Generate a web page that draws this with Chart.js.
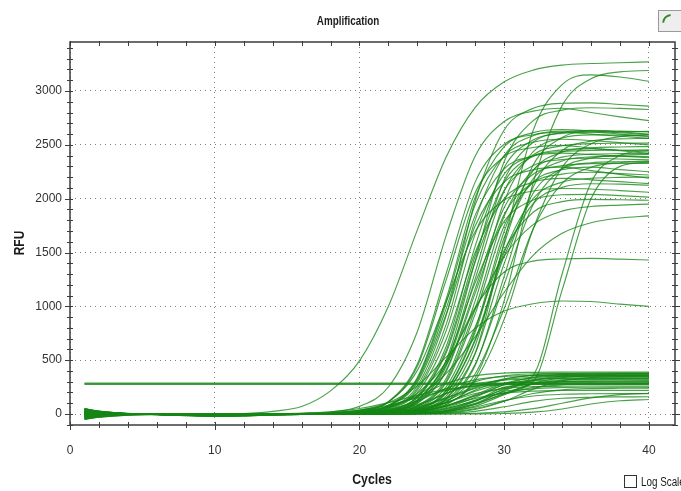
<!DOCTYPE html>
<html>
<head>
<meta charset="utf-8">
<title>Amplification</title>
<script src="https://cdn.jsdelivr.net/npm/chart.js@4.4.0/dist/chart.umd.min.js"></script>
<style>
  html, body { margin: 0; padding: 0; background: #fff; }
  #wrap { position: relative; width: 681px; height: 491px; overflow: hidden; }
</style>
</head>
<body>
<div id="wrap"><canvas id="amp" width="681" height="491"></canvas></div>
<script>
const cycles = [1, 2, 4, 6, 8, 10, 12, 14, 16, 18, 20, 22, 24, 26, 28, 30, 32, 34, 36, 38, 40]

const xTicks = [0, 10, 20, 30, 40]
const yTicks = [0, 500, 1000, 1500, 2000, 2500, 3000]

// positive wells, RFU per cycle
const highCurves = [
  [12, 6, 1, -2, -3, -2, 4, 25, 70, 215, 494, 1000, 1710, 2390, 2848, 3085, 3194, 3240, 3255, 3262, 3270],
  [30, 14, 2, -3, -6, -8, -6, -2, 5, 19, 71, 251, 767, 1662, 2397, 2716, 2813, 2840, 2800, 2760, 2725],
  [15, 8, 1, -2, -4, -5, -4, -2, 1, 6, 26, 115, 464, 1310, 2156, 2505, 2594, 2615, 2600, 2580, 2560],
  [2, 1, 0, -1, -2, -3, -2, -1, 1, 5, 25, 110, 443, 1250, 2058, 2390, 2475, 2495, 2470, 2445, 2420],
  [-15, -6, 0, 0, -2, -3, -2, -1, 1, 4, 18, 81, 338, 1073, 2014, 2483, 2613, 2642, 2630, 2612, 2594],
  [-35, -18, -4, 0, -4, -6, -5, -2, 1, 3, 15, 70, 293, 932, 1748, 2155, 2268, 2293, 2260, 2225, 2190],
  [38, 18, 2, -2, -5, -6, -5, -2, 0, 3, 13, 61, 262, 919, 1981, 2638, 2839, 2886, 2890, 2875, 2860],
  [8, 4, 0, -1, -3, -4, -3, -1, 0, 2, 11, 51, 222, 777, 1673, 2228, 2399, 2438, 2447, 2450, 2453],
  [20, 10, 2, -4, -10, -14, -12, -6, -2, 2, 10, 46, 199, 697, 1503, 2001, 2154, 2189, 2175, 2158, 2140],
  [-25, -10, -2, 0, -3, -4, -3, -1, 0, 2, 8, 38, 166, 630, 1562, 2290, 2545, 2607, 2617, 2622, 2625],
  [12, 6, 1, -2, -4, -5, -4, -2, 0, 2, 7, 34, 151, 571, 1416, 2077, 2307, 2363, 2375, 2368, 2360],
  [26, 12, 2, -3, -6, -8, -6, -3, -1, 1, 6, 29, 130, 492, 1220, 1789, 1987, 2036, 2040, 2028, 2015],
  [-4, -2, 0, -1, -2, -3, -2, -1, 0, 1, 6, 28, 125, 504, 1425, 2346, 2725, 2822, 2844, 2838, 2828],
  [-10, -4, 0, 0, -2, -3, -2, -1, 0, 1, 5, 25, 111, 445, 1258, 2071, 2405, 2491, 2511, 2515, 2516],
  [5, 3, 0, -1, -3, -4, -3, -1, 0, 1, 5, 23, 103, 412, 1165, 1918, 2227, 2307, 2325, 2328, 2328],
  [42, 20, 3, -4, -8, -10, -8, -4, -1, 1, 5, 22, 99, 398, 1125, 1852, 2151, 2228, 2245, 2232, 2220],
  [-30, -15, -3, 0, -4, -6, -5, -2, 0, 1, 4, 17, 79, 332, 1053, 1976, 2436, 2564, 2592, 2590, 2580],
  [18, 9, 1, -2, -4, -5, -4, -2, 0, 1, 3, 16, 74, 309, 980, 1839, 2268, 2386, 2413, 2418, 2420],
  [-48, -30, -10, -4, -12, -18, -16, -8, -3, -1, 3, 13, 61, 255, 810, 1520, 1874, 1972, 1994, 1990, 1985],
  [0, 0, 0, -1, -2, -3, -2, -1, 0, 0, 2, 11, 52, 225, 787, 1697, 2259, 2432, 2472, 2480, 2484],
  [34, 16, 2, -2, -5, -6, -5, -2, 0, 0, 2, 11, 50, 217, 761, 1639, 2183, 2350, 2388, 2395, 2390],
  [50, 28, 6, -6, -15, -20, -17, -8, -3, -1, 2, 10, 45, 195, 682, 1468, 1955, 2105, 2139, 2135, 2125],
  [-18, -8, 0, 0, -2, -3, -2, -1, 0, 0, 1, 5, 21, 88, 336, 1053, 2147, 2864, 3114, 3178, 3190],
  [6, 3, 0, -1, -3, -4, -3, -1, 0, 0, 2, 7, 31, 141, 566, 1600, 2634, 3059, 3150, 3130, 3090],
  [28, 13, 2, -3, -6, -8, -6, -3, -1, 0, 2, 8, 38, 168, 636, 1577, 2312, 2569, 2631, 2620, 2600],
  [-22, -9, -2, 0, -3, -4, -3, -1, 0, 0, 2, 8, 33, 131, 465, 1205, 1945, 2280, 2376, 2403, 2410],
  [10, 5, 1, -2, -4, -5, -4, -2, 0, 0, 1, 5, 25, 113, 453, 1280, 2107, 2447, 2534, 2555, 2560],
  [22, 11, 2, -4, -10, -14, -12, -6, -2, 0, 2, 8, 31, 111, 374, 980, 1718, 2143, 2291, 2334, 2345],
  [3, 1, 0, -1, -2, -3, -2, -1, 1, 3, 16, 74, 310, 984, 1847, 2277, 2396, 2423, 2410, 2395, 2380],
  [-40, -20, -4, 0, -4, -6, -5, -2, 0, 3, 12, 55, 239, 837, 1803, 2401, 2585, 2627, 2620, 2600, 2580],
  [40, 19, 2, -2, -5, -6, -5, -2, 0, 1, 6, 26, 116, 467, 1320, 2173, 2524, 2614, 2635, 2628, 2620],
  [-12, -5, 0, 0, -2, -3, -2, -1, 0, 0, 2, 10, 46, 199, 697, 1503, 2001, 2154, 2189, 2198, 2200],
  [48, 24, 4, -4, -8, -10, -8, -4, 2, 7, 29, 114, 405, 1050, 1695, 1987, 2071, 2094, 2090, 2075, 2060],
  [7, 3, 0, -1, -3, -4, -3, -1, 0, 0, 2, 7, 34, 149, 564, 1398, 2050, 2278, 2334, 2343, 2350],
  [16, 8, 1, -2, -4, -5, -4, -2, 0, 0, 3, 15, 70, 293, 932, 1748, 2155, 2268, 2293, 2270, 2250],
  [-28, -12, -2, 0, -3, -4, -3, -1, 0, 2, 8, 35, 156, 593, 1470, 2155, 2395, 2453, 2462, 2450, 2440],
  [32, 15, 2, -3, -6, -8, -6, -3, 1, 4, 17, 78, 326, 1037, 1946, 2399, 2524, 2552, 2540, 2520, 2500],
  [-2, -1, 0, -1, -2, -3, -2, -1, 0, 0, 1, 6, 24, 90, 310, 881, 1719, 2290, 2510, 2576, 2594]
]

// slow / low-plateau / late positives
const oddCurves = [
  [14, 7, 1, -2, -4, -5, -4, 0, 5, 12, 30, 74, 172, 377, 720, 1131, 1473, 1678, 1776, 1820, 1840],
  [-20, -8, -1, 0, -3, -4, -3, -1, 2, 8, 23, 66, 191, 484, 975, 1466, 1759, 1884, 1927, 1940, 1950],
  [46, 25, 5, -6, -14, -18, -15, -7, -2, 1, 7, 30, 131, 460, 990, 1319, 1420, 1440, 1445, 1438, 1430],
  [-45, -26, -8, -4, -10, -15, -12, -4, 4, 12, 36, 104, 262, 530, 797, 956, 1024, 1050, 1045, 1020, 1000],
  [24, 11, 1, -2, -5, -7, -5, -2, 0, 0, 1, 2, 5, 30, 120, 250, 360, 1300, 2150, 2400, 2450],
  [-6, -2, 0, -1, -3, -4, -3, -1, 0, 0, 0, 1, 3, 20, 90, 210, 300, 1150, 2000, 2300, 2340]
]

// low plateau wells
const lowCurves = [
  [28, 13, 2, -3, -6, -8, -6, -3, 1, 5, 18, 62, 163, 285, 356, 380, 387, 389, 390, 390, 390],
  [-14, -6, 0, 0, -2, -3, -2, -1, 1, 3, 12, 43, 122, 238, 317, 348, 357, 359, 360, 360, 360],
  [9, 4, 0, -1, -3, -4, -3, -1, 0, 2, 8, 29, 89, 192, 278, 314, 326, 329, 330, 330, 330],
  [-38, -19, -4, 0, -4, -6, -5, -2, 0, 2, 7, 25, 79, 190, 301, 355, 373, 378, 380, 380, 380],
  [44, 21, 3, -4, -8, -10, -8, -4, -1, 1, 5, 20, 63, 150, 237, 281, 295, 299, 300, 300, 300],
  [1, 0, 0, -1, -2, -3, -2, -1, 0, 1, 5, 16, 56, 146, 256, 319, 341, 348, 350, 350, 350],
  [18, 9, 2, -4, -10, -14, -12, -6, -2, 1, 3, 12, 41, 108, 190, 237, 254, 258, 260, 260, 260],
  [13, 7, 1, -2, -4, -5, -4, -2, 0, 1, 3, 13, 44, 125, 245, 326, 357, 367, 369, 370, 370],
  [-24, -10, -2, 0, -3, -4, -3, -1, 0, 1, 3, 11, 38, 108, 212, 282, 309, 317, 320, 320, 320],
  [36, 17, 2, -2, -5, -6, -5, -2, 0, 0, 2, 8, 26, 75, 145, 194, 213, 218, 220, 220, 220],
  [-8, -3, 0, 0, -2, -3, -2, -1, 0, 1, 3, 10, 33, 102, 222, 320, 362, 375, 379, 380, 380],
  [48, 26, 5, -6, -15, -20, -17, -8, -3, -1, 2, 7, 26, 78, 169, 244, 276, 286, 290, 290, 290],
  [24, 11, 2, -3, -6, -8, -6, -3, -1, 0, 2, 6, 23, 75, 180, 285, 337, 354, 358, 360, 360],
  [4, 2, 0, -1, -3, -4, -3, -1, 0, 0, 2, 6, 22, 71, 170, 269, 318, 334, 339, 340, 340],
  [-44, -26, -8, -4, -11, -16, -14, -7, -3, -1, 1, 5, 16, 52, 125, 198, 234, 246, 249, 250, 250],
  [11, 5, 1, -2, -4, -5, -4, -2, 0, 0, 1, 5, 18, 60, 156, 274, 342, 366, 372, 374, 375],
  [-32, -16, -3, 0, -4, -6, -5, -2, 0, 0, 1, 4, 15, 49, 129, 227, 283, 302, 308, 309, 310],
  [40, 19, 3, -4, -8, -10, -8, -4, -1, 0, 1, 3, 12, 42, 120, 235, 313, 343, 352, 354, 355],
  [-3, -1, 0, -1, -2, -3, -2, -1, 0, 0, 1, 3, 10, 33, 95, 185, 247, 270, 277, 279, 280],
  [16, 8, 1, -4, -9, -12, -10, -5, -2, 0, 0, 2, 7, 23, 64, 126, 167, 184, 188, 190, 190],
  [-20, -8, 0, 0, -2, -3, -2, -1, 0, 0, 0, 2, 9, 33, 100, 216, 311, 353, 365, 369, 370],
  [32, 15, 2, -2, -5, -6, -5, -2, 0, 0, 0, 2, 8, 29, 89, 192, 278, 314, 326, 329, 330],
  [-18, -7, -2, 0, -3, -4, -3, -1, 0, 0, 0, 2, 6, 23, 75, 180, 285, 337, 354, 358, 360],
  [6, 3, 0, -1, -3, -4, -3, -1, 0, 0, 0, 1, 4, 16, 50, 120, 190, 224, 236, 239, 240],
  [22, 10, 2, -3, -6, -8, -6, -3, -1, 0, 0, 1, 2, 8, 25, 67, 117, 146, 156, 159, 160],
  [14, 7, 1, -2, -4, -5, -4, 0, 5, 14, 36, 81, 150, 219, 264, 286, 295, 298, 299, 300, 300],
  [0, 0, 0, -1, -2, -1, 1, 3, 8, 21, 51, 106, 174, 229, 259, 272, 277, 279, 280, 280, 280],
  [-26, -12, -3, 0, -4, -6, -5, -2, 0, 0, 0, 1, 3, 12, 42, 119, 231, 308, 338, 347, 349],
  [-50, -30, -10, -4, -12, -18, -16, -8, -4, -2, -1, 0, 0, 0, 1, 5, 17, 47, 93, 123, 135],
  [44, 24, 5, -6, -14, -19, -16, -8, -3, -1, 0, 0, 1, 2, 7, 20, 50, 100, 150, 180, 193]
]

// wells stuck flat from the first cycle
const flatCurves = [
  [287, 287, 287, 287, 287, 287, 287, 287, 287, 287, 287, 287, 287, 287, 287, 287, 287, 287, 287, 287, 287],
  [281, 281, 281, 281, 281, 281, 281, 281, 281, 281, 281, 281, 281, 281, 281, 281, 281, 281, 281, 281, 281],
  [275, 275, 275, 275, 275, 275, 275, 275, 275, 275, 275, 275, 275, 275, 275, 275, 275, 275, 275, 275, 275]
]

const FONT = "'Liberation Sans', Arial, sans-serif"
const GREEN = 'rgba(22, 134, 22, 0.78)'

const toPoints = vals => vals.map((v, i) => ({ x: cycles[i], y: v }))
const allWells = [...highCurves, ...oddCurves, ...lowCurves, ...flatCurves]

// squeezed text, the original uses a narrow face
function narrowText (ctx, text, x, y, font, squeeze) {
  ctx.save()
  ctx.font = font
  ctx.translate(x, y)
  ctx.scale(squeeze, 1)
  ctx.fillText(text, 0, 0)
  ctx.restore()
}

// frame, minor ticks and the loose labels around the plot
const decor = {
  id: 'decor',
  afterDraw(chart) {
    const { ctx, chartArea: a, scales: { x, y } } = chart
    ctx.save()
    ctx.strokeStyle = '#3c3c3c'
    ctx.lineWidth = 1.5
    ctx.strokeRect(a.left, a.top, a.right - a.left, a.bottom - a.top)

    ctx.lineWidth = 1
    ctx.beginPath()
    for (let c = 0; c <= 40; c += 2) {
      const px = Math.round(x.getPixelForValue(c)) + 0.5
      const len = c % 10 === 0 ? 5 : 3
      ctx.moveTo(px, a.bottom - 3); ctx.lineTo(px, a.bottom + len)
      ctx.moveTo(px, a.top - 1); ctx.lineTo(px, a.top + 4)
    }
    for (let v = -100; v <= 3400; v += 100) {
      const py = Math.round(y.getPixelForValue(v)) + 0.5
      const len = v % 500 === 0 ? 5 : 3
      ctx.moveTo(a.left - len, py); ctx.lineTo(a.left + 3, py)
      ctx.moveTo(a.right - 3, py); ctx.lineTo(a.right + len, py)
    }
    ctx.stroke()

    ctx.fillStyle = '#1a1a1a'
    ctx.textAlign = 'center'
    ctx.textBaseline = 'middle'
    narrowText(ctx, 'Amplification', 348, 22, 'bold 12px ' + FONT, 0.82)
    narrowText(ctx, 'Cycles', 372, 480, 'bold 15px ' + FONT, 0.82)
    ctx.save()
    ctx.translate(20, 243)
    ctx.rotate(-Math.PI / 2)
    narrowText(ctx, 'RFU', 0, 0, 'bold 14px ' + FONT, 0.85)
    ctx.restore()

    // log scale checkbox
    ctx.strokeStyle = '#333'
    ctx.lineWidth = 1
    ctx.strokeRect(624.5, 475.5, 12, 12)
    ctx.textAlign = 'left'
    narrowText(ctx, 'Log Scale', 641, 483, '12px ' + FONT, 0.82)

    // little tool button in the corner
    ctx.fillStyle = '#eeeeee'
    ctx.fillRect(658, 10, 24, 22)
    ctx.strokeStyle = '#9a9a9a'
    ctx.strokeRect(658.5, 10.5, 24, 21)
    ctx.strokeStyle = '#2e8b2e'
    ctx.lineWidth = 2
    ctx.beginPath()
    ctx.arc(672, 24, 9, Math.PI * 1.05, Math.PI * 1.45)
    ctx.stroke()
    ctx.restore()
  }
}

new Chart(document.getElementById('amp'), {
  type: 'line',
  data: {
    datasets: allWells.map(vals => ({
      data: toPoints(vals),
      borderColor: GREEN,
      borderWidth: 1.15,
      pointRadius: 0,
      fill: false,
      cubicInterpolationMode: 'monotone'
    }))
  },
  options: {
    responsive: false,
    animation: false,
    events: [],
    layout: { padding: { top: 42, right: 6, left: 0, bottom: 0 } },
    plugins: {
      legend: { display: false },
      tooltip: { enabled: false },
      title: { display: false }
    },
    scales: {
      x: {
        type: 'linear',
        min: 0,
        max: 41.8,
        afterBuildTicks: s => { s.ticks = xTicks.map(v => ({ value: v })) },
        afterFit: s => { s.height = 66 },
        ticks: { font: { family: FONT, size: 12 }, color: '#333', padding: 18, maxRotation: 0, autoSkip: false, callback: v => String(v) },
        grid: { color: '#808080', lineWidth: 1, drawTicks: false },
        border: { display: false, dash: [1, 4] }
      },
      y: {
        type: 'linear',
        min: -102,
        max: 3455,
        afterBuildTicks: s => { s.ticks = yTicks.map(v => ({ value: v })) },
        afterFit: s => { s.width = 70 },
        ticks: { font: { family: FONT, size: 12 }, color: '#333', padding: 8, callback: v => String(v) },
        grid: { color: '#808080', lineWidth: 1, drawTicks: false },
        border: { display: false, dash: [1, 4] }
      }
    }
  },
  plugins: [decor]
})
</script>
</body>
</html>
